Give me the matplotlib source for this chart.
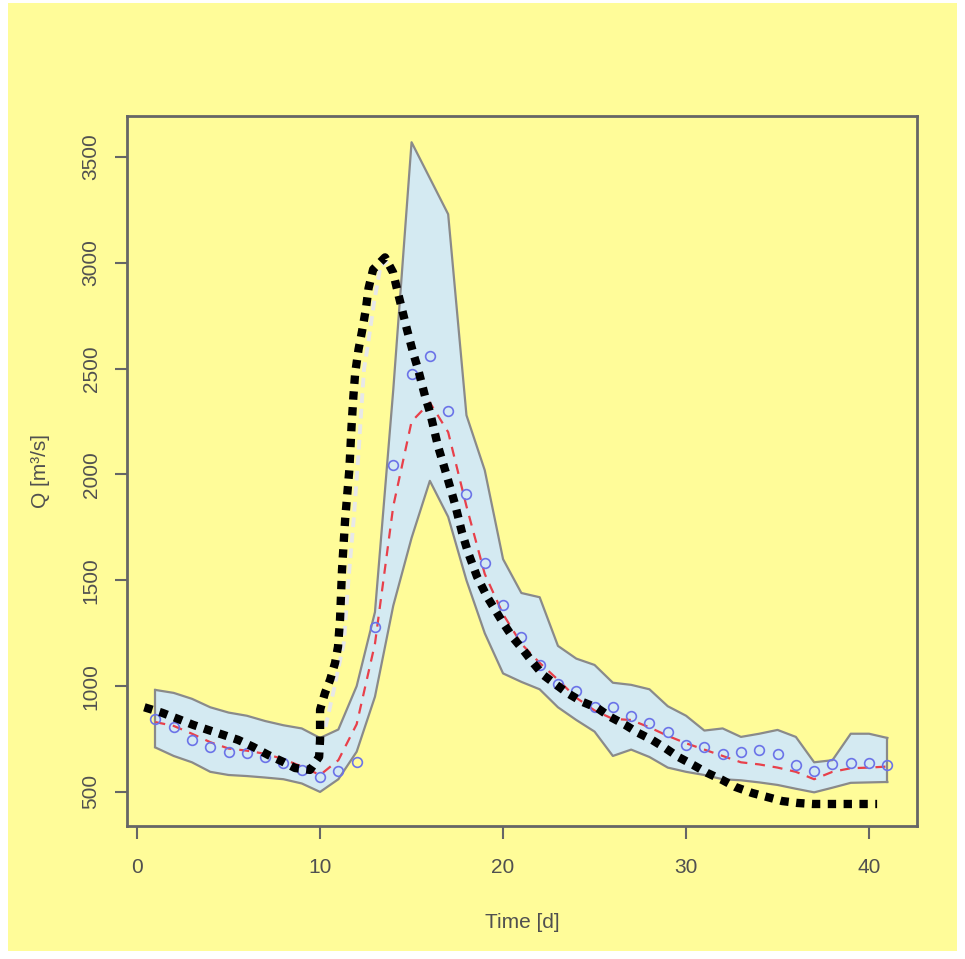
import matplotlib
matplotlib.use("Agg")
import matplotlib.pyplot as plt
from matplotlib.patches import Rectangle

# ---- data ----
days = list(range(1, 42))

# observed discharge (blue circles)
obs = [845, 807, 746, 713, 690, 683, 666, 637, 604, 571,
       600, 640, 1280, 2047, 2473, 2558, 2298, 1910, 1583, 1385,
       1233, 1100, 1010, 978, 900, 902, 860, 826, 784, 722,
       713, 678, 689, 697, 680, 626, 600, 630, 636, 636, 628]

# median of the ensemble (red dashed)
median = [830, 812, 775, 735, 705, 695, 680, 655, 620, 580,
          650, 820, 1200, 1850, 2250, 2340, 2200, 1850, 1530, 1340,
          1200, 1110, 1030, 945, 885, 845, 840, 805, 765, 730,
          700, 670, 640, 630, 615, 595, 560, 595, 612, 615, 620]

# uncertainty band
upper = [982, 968, 940, 900, 875, 860, 835, 815, 800, 755,
         795, 1000, 1350, 2400, 3570, 3400, 3230, 2280, 2020, 1600,
         1440, 1420, 1190, 1130, 1100, 1016, 1006, 985, 905, 860,
         790, 800, 760, 775, 793, 760, 640, 650, 775, 775, 755]
lower = [710, 670, 640, 595, 580, 575, 568, 560, 540, 500,
         560, 690, 950, 1380, 1700, 1970, 1800, 1500, 1250, 1060,
         1020, 985, 900, 840, 785, 670, 700, 665, 615, 595,
         580, 560, 555, 545, 533, 515, 498, 520, 543, 545, 547]

# hand-drawn black dotted curve
dot_t = [0.4, 1.37, 2.24, 3.06, 3.88, 4.70, 5.52, 6.34, 7.16, 7.98,
         8.63, 9.45, 9.95, 10.0, 10.0, 10.0, 10.27, 10.55, 10.82, 10.98,
         11.09, 11.2, 11.37, 11.6, 11.72, 11.82, 11.92, 12.1, 12.3, 12.5,
         12.65, 12.9, 13.55, 13.99, 14.21, 14.48, 14.75, 15.08,
         15.36, 15.74, 16.01, 16.45, 16.94, 17.38, 17.76, 18.09, 18.58, 19.13,
         19.56, 20.0, 20.55, 21.09, 21.64, 22.19, 23.5, 24.32, 25.14, 25.85,
         26.67, 27.38, 28.14, 28.85, 29.56, 30.38, 31.15, 31.97, 32.68, 33.61,
         34.43, 35.25, 36.07, 36.94, 37.87, 38.69, 39.62, 40.44]
dot_q = [900, 874, 845, 817, 793, 770, 746, 713, 675, 642,
         613, 604, 666, 746, 826, 888, 968, 1030, 1110, 1186,
         1313, 1550, 1787, 2023, 2227, 2369, 2480, 2590, 2680, 2780,
         2880, 2969, 3026, 2955, 2875, 2780, 2685, 2577,
         2496, 2369, 2293, 2132, 1990, 1858, 1725, 1631, 1517, 1422,
         1361, 1299, 1228, 1172, 1110, 1053, 968, 926, 897, 855,
         817, 779, 746, 708, 666, 628, 590, 557, 524, 495,
         476, 457, 448, 443, 443, 443, 443, 443]

# faint light dashed curve just right of the rising limb
white_t = [10.3, 10.75, 11.3, 11.55, 11.85, 12.1, 12.25, 12.4, 12.6,
           12.95, 13.3, 13.7]
white_q = [807, 982, 1205, 1500, 1800, 2100, 2300, 2496, 2605,
           2813, 2983, 3010]

xticks = [0, 10, 20, 30, 40]
yticks = [500, 1000, 1500, 2000, 2500, 3000, 3500]

yellow = "#fffc99"
grey_txt = "#505050"
font = ["Liberation Sans Narrow", "Liberation Sans", "DejaVu Sans"]

W, H = 965, 959
fig = plt.figure(figsize=(W / 100, H / 100), dpi=100)
fig.patch.set_facecolor("white")
fig.patches.append(Rectangle((8 / W, 1 - 951 / H), (957 - 8) / W, (951 - 3) / H,
                             transform=fig.transFigure, facecolor=yellow,
                             edgecolor="none", zorder=-10))

ax = fig.add_axes([127 / W, 1 - 826 / H, (917 - 127) / W, (826 - 116) / H])
ax.set_facecolor(yellow)

ax.fill_between(days, lower, upper, facecolor="#d4eaf2", edgecolor="none", zorder=1)
ax.plot(days, upper, color="#8a8a8a", lw=1.6, zorder=2)
ax.plot(days, lower, color="#8a8a8a", lw=1.6, zorder=2)
ax.plot([days[0], days[0]], [lower[0], upper[0]], color="#8a8a8a", lw=1.6, zorder=2)
ax.plot([days[-1], days[-1]], [lower[-1], upper[-1]], color="#8a8a8a", lw=1.6, zorder=2)

ax.plot(days, median, color="#e8404a", lw=1.6, ls=(0, (4.5, 3.5)), zorder=3)
ax.plot(days, obs, ls="none", marker="o", ms=7, mfc="none", mec="#6b73e8",
        mew=1.2, zorder=4)

ax.plot(white_t, white_q, color="#e8e8e8", lw=2.8, ls=(0, (2.5, 1.5)), zorder=5)
ax.plot(dot_t, dot_q, color="black", lw=6, ls=(0, (1, 0.9)),
        dash_capstyle="butt", zorder=6)

ax.set_xlim(-0.55, 42.62)
ax.set_ylim(339, 3694)
ax.set_xticks(xticks)
ax.set_yticks(yticks)

for s in ax.spines.values():
    s.set_color("#666666")
    s.set_linewidth(2)

ax.tick_params(axis="both", colors="#666666", length=9, width=1.5,
               labelcolor=grey_txt, labelsize=15)
ax.tick_params(axis="x", pad=14)
ax.tick_params(axis="y", pad=10)
for lab in ax.get_xticklabels():
    lab.set_family(font)
for lab in ax.get_yticklabels():
    lab.set_family(font)
    lab.set_rotation(90)
    lab.set_va("center")

ax.set_xlabel("Time [d]", color=grey_txt, fontsize=15, family=font)
ax.xaxis.set_label_coords(0.5, -0.122)
ax.set_ylabel("Q [m³/s]", color=grey_txt, fontsize=15, family=font)
ax.yaxis.set_label_coords(-0.098, 0.5)

fig.savefig("out.png", dpi=100, facecolor=fig.get_facecolor())
